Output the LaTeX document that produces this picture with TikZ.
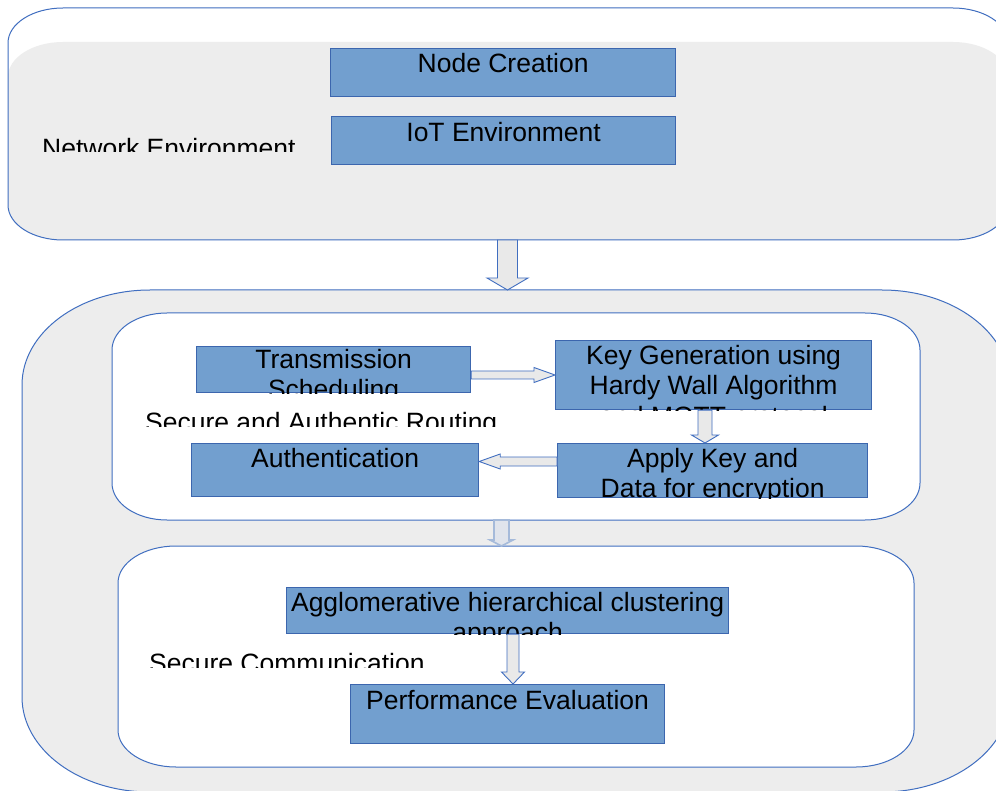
\documentclass[tikz,border=0pt]{standalone}
\usepackage{fontspec}
\setmainfont{Liberation Sans}
\usetikzlibrary{calc}
\definecolor{boxfill}{RGB}{114,159,207}
\definecolor{boxline}{RGB}{60,102,174}
\definecolor{frameline}{RGB}{64,110,192}
\definecolor{panelgray}{RGB}{237,237,237}
\definecolor{arrowfill}{RGB}{233,233,233}
\definecolor{fadeline}{RGB}{165,186,218}
\definecolor{fadefill}{RGB}{224,228,236}
\newcommand\dfont{\fontsize{26.5}{30}\selectfont}
% elliptical-corner rounded rectangle: style, L, T, R, B, rx, ry
\newcommand\erect[7]{\path[#1] (#2+#6,#3) -- (#4-#6,#3)
  .. controls (#4-0.4477*#6,#3) and (#4,#3+0.4477*#7) .. (#4,#3+#7) -- (#4,#5-#7)
  .. controls (#4,#5-0.4477*#7) and (#4-0.4477*#6,#5) .. (#4-#6,#5) -- (#2+#6,#5)
  .. controls (#2+0.4477*#6,#5) and (#2,#5-0.4477*#7) .. (#2,#5-#7) -- (#2,#3+#7)
  .. controls (#2,#3+0.4477*#7) and (#2+0.4477*#6,#3) .. (#2+#6,#3) -- cycle;}
\begin{document}
\begin{tikzpicture}[x=1pt,y=-1pt,
  boxst/.style={draw=boxline, fill=boxfill, line width=1.2pt, inner sep=0pt, anchor=north west},
  txt/.style={font=\dfont, inner sep=0pt, anchor=base, text=black},
  lbl/.style={font=\dfont, inner sep=0pt, anchor=base west, text=black},
  frame/.style={draw=frameline, line width=1pt},
  blockarrow/.style={draw=frameline, fill=arrowfill, line width=0.9pt, line join=miter},
  fadearrow/.style={draw=fadeline, fill=fadefill, line width=1.6pt, line join=miter}]
\useasboundingbox (0,0) rectangle (996,791);
\clip (0,0) rectangle (996,791);
\fill[white] (0,0) rectangle (996,791);

% ---- top container (Network Environment)
\erect{fill=panelgray}{8}{42}{1008}{240}{55}{35}
\erect{frame}{8}{8}{1008}{240}{55}{35}

% ---- second container
\erect{frame, fill=panelgray}{22}{290}{1010}{792}{128}{95}
\erect{frame, fill=white}{112}{313}{920}{520}{55}{37}
\erect{frame, fill=white}{118}{546}{914}{767}{58}{37}

% ---- named connection points on the containers
\coordinate (topbot) at (507.5,240);
\coordinate (sectop) at (507.5,290);
\coordinate (routbot) at (501.5,520);
\coordinate (commtop) at (501.5,546);

% ---- boxes
\node[boxst, minimum width=345, minimum height=48] (nc) at (330,48) {};
\node[boxst, minimum width=344, minimum height=48] (ie) at (331,116) {};
\node[boxst, minimum width=274, minimum height=46] (ts) at (196,346) {};
\node[boxst, minimum width=316, minimum height=69] (kg) at (555,340) {};
\node[boxst, minimum width=287, minimum height=53] (au) at (191,443) {};
\node[boxst, minimum width=310, minimum height=54] (ak) at (557,443) {};
\node[boxst, minimum width=442, minimum height=46] (ag) at (286,587) {};
\node[boxst, minimum width=314, minimum height=59] (pe) at (350,684) {};

% ---- box texts (clipped by their boxes)
\begin{scope}\clip (nc.south west) rectangle (nc.north east);
  \node[txt] at ($(nc.north)+(0,25)$) {Node Creation};\end{scope}
\begin{scope}\clip (ie.south west) rectangle (ie.north east);
  \node[txt] at ($(ie.north)+(0,26)$) {IoT Environment};\end{scope}
\begin{scope}\clip (ts.south west) rectangle (ts.north east);
  \node[txt] at ($(ts.north)+(0,23)$) {Transmission};
  \node[txt] at ($(ts.north)+(0,53)$) {Scheduling};\end{scope}
\begin{scope}\clip (kg.south west) rectangle (kg.north east);
  \node[txt] at ($(kg.north)+(0,25)$) {Key Generation using};
  \node[txt] at ($(kg.north)+(0,55)$) {Hardy Wall Algorithm};
  \node[txt] at ($(kg.north)+(0,85)$) {and MQTT protocol};\end{scope}
\begin{scope}\clip (au.south west) rectangle (au.north east);
  \node[txt] at ($(au.north)+(0,24)$) {Authentication};\end{scope}
\begin{scope}\clip (ak.south west) rectangle (ak.north east);
  \node[txt] at ($(ak.north)+(0,24)$) {Apply Key and};
  \node[txt] at ($(ak.north)+(0,54.5)$) {Data for encryption};\end{scope}
\begin{scope}\clip (ag.south west) rectangle (ag.north east);
  \node[txt] at ($(ag.north)+(0,24.5)$) {Agglomerative hierarchical clustering};
  \node[txt] at ($(ag.north)+(0,54.5)$) {approach};\end{scope}
\begin{scope}\clip (pe.south west) rectangle (pe.north east);
  \node[txt] at ($(pe.north)+(0,25)$) {Performance Evaluation};\end{scope}

% ---- container labels (clipped text frames)
\begin{scope}\clip (30,120) rectangle (320,152);
  \node[lbl] (lnet) at (42,157.5) {Network Environment};\end{scope}
\begin{scope}\clip (130,400) rectangle (520,426);
  \node[lbl] (lsar) at (145,431.5) {Secure and Authentic Routing};\end{scope}
\begin{scope}\clip (130,640) rectangle (450,667);
  \node[lbl] (lsc) at (149,672.5) {Secure Communication};\end{scope}

% ---- block arrows
% top container -> second container
\path[blockarrow] ($(topbot)+(-10,0)$) -- ($(sectop)+(-10,-12)$) -- ($(sectop)+(-20.5,-12)$)
  -- (sectop) -- ($(sectop)+(20.5,-12)$) -- ($(sectop)+(10,-12)$) -- ($(topbot)+(10,0)$) -- cycle;
% Transmission -> Key Generation
\coordinate (a1s) at (ts.east |- 0,375);
\coordinate (a1t) at (kg.west |- 0,375);
\path[blockarrow] ($(a1s)+(0,-4)$) -- ($(a1t)+(-21,-4)$) -- ($(a1t)+(-21,-7.5)$)
  -- (a1t) -- ($(a1t)+(-21,7.5)$) -- ($(a1t)+(-21,4)$) -- ($(a1s)+(0,4)$) -- cycle;
% Key Generation -> Apply Key
\coordinate (a2s) at (705,0 |- kg.south);
\coordinate (a2t) at (705,0 |- ak.north);
\path[blockarrow] ($(a2s)+(-7,0)$) -- ($(a2t)+(-7,-8)$) -- ($(a2t)+(-13.5,-8)$)
  -- (a2t) -- ($(a2t)+(13.5,-8)$) -- ($(a2t)+(7,-8)$) -- ($(a2s)+(7,0)$) -- cycle;
% Apply Key -> Authentication
\coordinate (a3s) at (ak.west |- 0,461.5);
\coordinate (a3t) at (au.east |- 0,461.5);
\path[blockarrow] ($(a3s)+(0,-4.5)$) -- ($(a3t)+(21,-4.5)$) -- ($(a3t)+(21,-7.5)$)
  -- (a3t) -- ($(a3t)+(21,7.5)$) -- ($(a3t)+(21,4.5)$) -- ($(a3s)+(0,4.5)$) -- cycle;
% routing -> communication (faded)
\path[fadearrow] ($(routbot)+(-7.5,0)$) -- ($(commtop)+(-7.5,-6)$) -- ($(commtop)+(-11.5,-6)$)
  -- (commtop) -- ($(commtop)+(11.5,-6)$) -- ($(commtop)+(7.5,-6)$) -- ($(routbot)+(7.5,0)$) -- cycle;
% Agglomerative -> Performance
\coordinate (a4s) at (513,0 |- ag.south);
\coordinate (a4t) at (513,0 |- pe.north);
\path[blockarrow] ($(a4s)+(-6,0)$) -- ($(a4t)+(-6,-12)$) -- ($(a4t)+(-11.5,-12)$)
  -- (a4t) -- ($(a4t)+(11.5,-12)$) -- ($(a4t)+(6,-12)$) -- ($(a4s)+(6,0)$) -- cycle;
\end{tikzpicture}
\end{document}
